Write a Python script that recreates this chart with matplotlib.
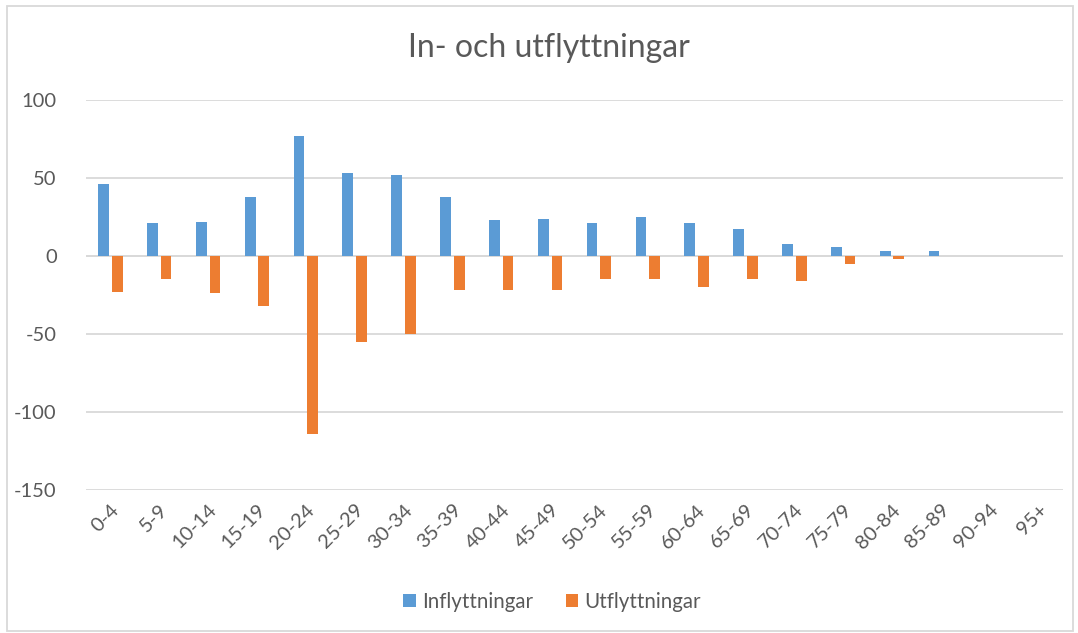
import matplotlib.pyplot as plt
import numpy as np
from matplotlib.patches import Rectangle

age_groups = ["0-4", "5-9", "10-14", "15-19", "20-24", "25-29", "30-34", "35-39",
              "40-44", "45-49", "50-54", "55-59", "60-64", "65-69", "70-74", "75-79",
              "80-84", "85-89", "90-94", "95+"]
inflyttningar = [46, 21, 22, 38, 77, 53, 52, 38, 23, 24, 21, 25, 21, 17, 8, 6, 3, 3, 0, 0]
utflyttningar = [-23, -15, -24, -32, -114, -55, -50, -22, -22, -22, -15, -15, -20, -15, -16, -5, -2, 0, 0, 0]

BLUE = "#5b9bd5"
ORANGE = "#ed7d31"
TEXT = "#595959"
GRID = "#d9d9d9"

plt.rcParams["font.family"] = ["Lato", "DejaVu Sans"]
plt.rcParams["axes.unicode_minus"] = False

fig = plt.figure(figsize=(10.78, 6.33), dpi=100)
ax = fig.add_axes([86 / 1078, 1 - 490 / 633, (1063 - 86) / 1078, 390 / 633])

x = np.arange(len(age_groups))
w = 0.22
off = 0.14
ax.bar(x - off, inflyttningar, w, color=BLUE, label="Inflyttningar", zorder=3)
ax.bar(x + off, utflyttningar, w, color=ORANGE, label="Utflyttningar", zorder=3)

ax.set_xlim(-0.5, len(age_groups) - 0.5)
ax.set_ylim(-150, 100)
ax.set_yticks([-150, -100, -50, 0, 50, 100])
ax.yaxis.grid(True, color=GRID, linewidth=1.3, zorder=0)
ax.set_axisbelow(True)
for s in ax.spines.values():
    s.set_visible(False)
ax.axhline(0, color=GRID, linewidth=1.3, zorder=1)

ax.set_xticks(x)
ax.set_xticklabels(age_groups, rotation=45, ha="right", rotation_mode="anchor")
ax.tick_params(axis="both", length=0, labelsize=14.5, colors=TEXT)
ax.tick_params(axis="y", pad=21)
ax.tick_params(axis="x", pad=8)

# chart title, centred on the plot area like Excel does
fig.text(549 / 1078, 1 - 48 / 633, "In- och utflyttningar", ha="center", va="center",
         fontsize=23, color=TEXT)

ax.legend(loc="center", bbox_to_anchor=(552 / 1078, 1 - 602 / 633), bbox_transform=fig.transFigure,
          ncol=2, frameon=False, fontsize=14.8, labelcolor=TEXT, handlelength=0.62,
          handleheight=0.62, handletextpad=0.3, columnspacing=1.6)

fig.patches.append(Rectangle((7 / 1078, 2 / 633), 1066 / 1078, 625 / 633, transform=fig.transFigure,
                             fill=False, edgecolor=GRID, linewidth=1.3))

fig.savefig("out.png", dpi=100)
